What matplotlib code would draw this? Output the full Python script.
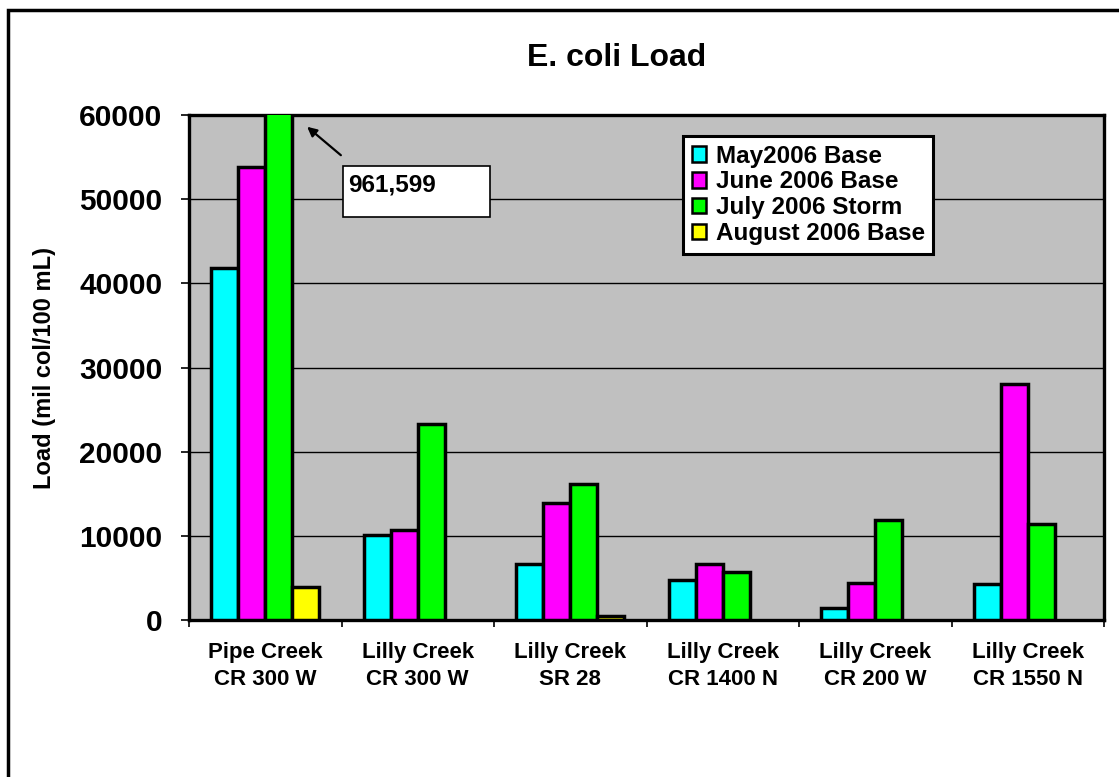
# plot.py
#  E. coli load bar chart, saved to out.png

import matplotlib
matplotlib.use('Agg')
import matplotlib.pyplot as plt   # matplotlib
from matplotlib.patches import Rectangle
import numpy as np                # numpy

plt.rcParams['font.family'] = ['Liberation Sans', 'DejaVu Sans']
plt.rcParams['font.weight'] = 'bold'

# data
sites = [
  'Pipe Creek\nCR 300 W',
  'Lilly Creek\nCR 300 W',
  'Lilly Creek\nSR 28',
  'Lilly Creek\nCR 1400 N',
  'Lilly Creek\nCR 200 W',
  'Lilly Creek\nCR 1550 N',
]
may_2006 = [41800, 10100, 6600, 4750, 1400, 4300]
june_2006 = [53850, 10700, 13850, 6650, 4350, 28050]
july_2006 = [961599, 23300, 16200, 5700, 11900, 11400]
aug_2006 = [3950, np.nan, 450, np.nan, np.nan, np.nan]

series_names = ['May2006 Base', 'June 2006 Base', 'July 2006 Storm', 'August 2006 Base']
series_colors = ['#00ffff', '#ff00ff', '#00ff00', '#ffff00']
y_ticks = [0, 10000, 20000, 30000, 40000, 50000, 60000]

W, H = 1119, 777
fig = plt.figure(figsize=(W / 100, H / 100), dpi=100)
ax = fig.add_axes([189 / W, 1 - 620 / H, (1104 - 189) / W, (620 - 115) / H])
ax.set_facecolor('#c0c0c0')

# bars
x = np.arange(len(sites))
bar_w = 0.177
all_series = [may_2006, june_2006, july_2006, aug_2006]
for i, (vals, name, col) in enumerate(zip(all_series, series_names, series_colors)):
  ax.bar(x + (i - 1.5) * bar_w, vals, width=bar_w, color=col, edgecolor='black',
         linewidth=2.5, label=name, zorder=3)

# axes
ax.set_ylim(0, 60000)
ax.set_xlim(-0.5, len(sites) - 0.5)
ax.set_yticks(y_ticks)
ax.set_yticklabels([str(v) for v in y_ticks], fontsize=21.5, fontweight='bold')
ax.yaxis.grid(True, color='black', linewidth=1.0, zorder=0)
ax.set_axisbelow(True)

ax.set_xticks(np.arange(-0.5, len(sites), 1.0))
ax.set_xticklabels([])
ax.set_xticks(x, minor=True)
ax.set_xticklabels(sites, minor=True, fontsize=16, fontweight='bold', linespacing=1.35)
ax.tick_params(axis='x', which='minor', length=0, pad=16)
ax.tick_params(axis='x', which='major', length=5, width=1.2, direction='out')
ax.tick_params(axis='y', length=6, width=1.2, direction='out', pad=13)

for sp in ax.spines.values():
  sp.set_linewidth(2.4)
  sp.set_color('black')

# legend
leg = ax.legend(loc='upper left', bbox_to_anchor=(683 / W, 1 - 136 / H),
                bbox_transform=fig.transFigure, prop={'size': 17.5, 'weight': 'bold'},
                frameon=True, fancybox=False, framealpha=1.0, facecolor='white',
                handlelength=0.6, handleheight=0.6,
                handletextpad=0.4, labelspacing=0.12, borderpad=0.35, borderaxespad=0)
leg.get_frame().set_edgecolor('black')
leg.get_frame().set_linewidth(2.2)
leg.set_zorder(5)
for h in leg.legend_handles:
  h.set_linewidth(1.8)

# annotation for the clipped July bar
ax.annotate('', xy=((305 - 189) / 915, (620 - 125) / 505),
            xytext=((343 - 189) / 915, (620 - 157) / 505),
            xycoords='axes fraction', textcoords='axes fraction',
            arrowprops=dict(arrowstyle='-|>', color='black', lw=1.6, mutation_scale=14),
            zorder=6)
ax.add_patch(Rectangle(((343 - 189) / 915, (620 - 217) / 505), 147 / 915, 51 / 505,
                       transform=ax.transAxes, facecolor='white', edgecolor='black',
                       linewidth=1.2, zorder=6, clip_on=False))
ax.text((348 - 189) / 915, (620 - 185) / 505, '961,599', transform=ax.transAxes,
        ha='left', va='center', fontsize=17.5, fontweight='bold', zorder=7)

# title and y label
fig.text(617 / W, 1 - 58 / H, 'E. coli Load', ha='center', va='center',
         fontsize=23, fontweight='bold')
fig.text(45 / W, 1 - 368 / H, 'Load (mil col/100 mL)', ha='center', va='center',
         rotation=90, fontsize=17, fontweight='bold')

# outer frame (only left and top edges visible)
fig.add_artist(Rectangle((8 / W, -0.2), 1.5, (H - 10) / H + 0.2, transform=fig.transFigure,
                         fill=False, edgecolor='black', linewidth=2.5))

fig.savefig('out.png', dpi=100)
